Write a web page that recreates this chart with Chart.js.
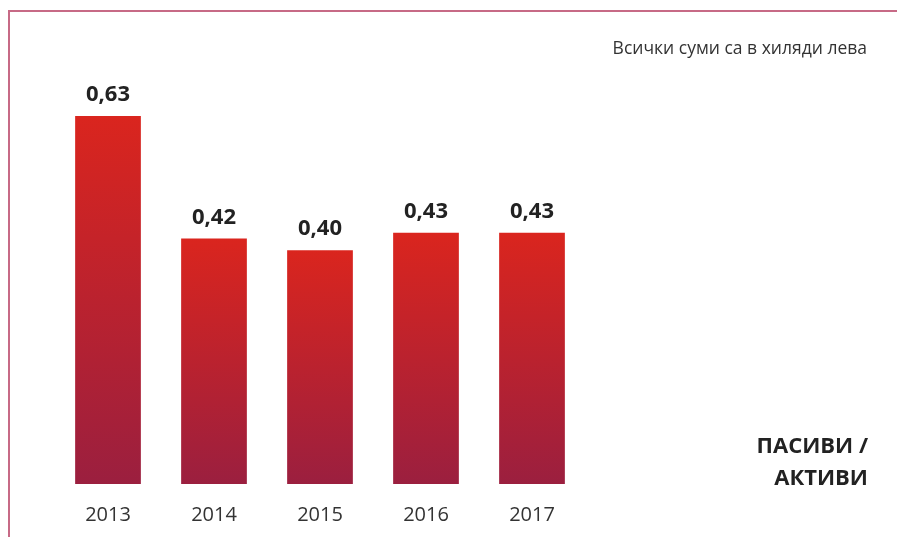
<!DOCTYPE html>
<html><head><meta charset="utf-8">
<script src="https://cdn.jsdelivr.net/npm/chart.js@4/dist/chart.umd.min.js"></script>
<style>
html,body{margin:0;padding:0;background:#fff;}
#wrap{position:relative;width:897px;height:537px;overflow:hidden;}
#frame{position:absolute;left:8px;top:10px;width:900px;height:540px;border-left:2px solid #c76a86;border-top:2px solid #c76a86;box-sizing:border-box;}
#note{position:absolute;right:30px;top:35px;font-family:"Open Sans",sans-serif;font-size:17.5px;color:#333;}
#ttl{position:absolute;right:29px;top:428px;font-family:"Open Sans",sans-serif;font-weight:700;font-size:22px;line-height:32px;color:#222;text-align:right;}
canvas{position:absolute;left:0;top:0;}
</style></head><body>
<div id="wrap">
<div id="frame"></div>
<canvas id="c" width="897" height="540"></canvas>
<div id="note">Всички суми са в хиляди лева</div>
<div id="ttl">ПАСИВИ /<br>АКТИВИ</div>
</div>
<script>
const years = ["2013","2014","2015","2016","2017"];
const ratio = [0.63,0.42,0.40,0.43,0.43];
const labelsText = ["0,63","0,42","0,40","0,43","0,43"];

function barGrad(ctx){
  const chart = ctx.chart;
  const ca = chart.chartArea;
  if(!ca) return '#c8232a';
  const ys = chart.scales.y;
  const v = ctx.raw;
  const top = ys.getPixelForValue(v), bot = ys.getPixelForValue(0);
  const g = chart.ctx.createLinearGradient(0, top, 0, bot);
  g.addColorStop(0, '#da251e');
  g.addColorStop(1, '#9b1f3f');
  return g;
}

const valueLabels = {
  id:'valueLabels',
  afterDatasetsDraw(chart){
    const c = chart.ctx;
    const meta = chart.getDatasetMeta(0);
    c.save();
    c.font = 'bold 22px "Open Sans", sans-serif';
    c.fillStyle = '#222';
    c.textAlign = 'center';
    c.textBaseline = 'alphabetic';
    meta.data.forEach((bar,i)=>{
      c.fillText(labelsText[i], bar.x, bar.y - 15);
    });
    c.restore();
  }
};

new Chart(document.getElementById('c'), {
  type:'bar',
  data:{labels:years, datasets:[{data:ratio, backgroundColor:barGrad, categoryPercentage:1, barPercentage:0.62, borderWidth:0}]},
  options:{
    responsive:false, animation:false,
    layout:{padding:{left:55, right:312, top:75, bottom:2}},
    plugins:{legend:{display:false}, tooltip:{enabled:false}},
    scales:{
      x:{grid:{display:false}, border:{display:false},
         ticks:{color:'#333', font:{family:'"Open Sans", sans-serif', size:20}, padding:11}},
      y:{display:false, min:0, max:0.7}
    }
  },
  plugins:[valueLabels]
});
</script>
</body></html>
